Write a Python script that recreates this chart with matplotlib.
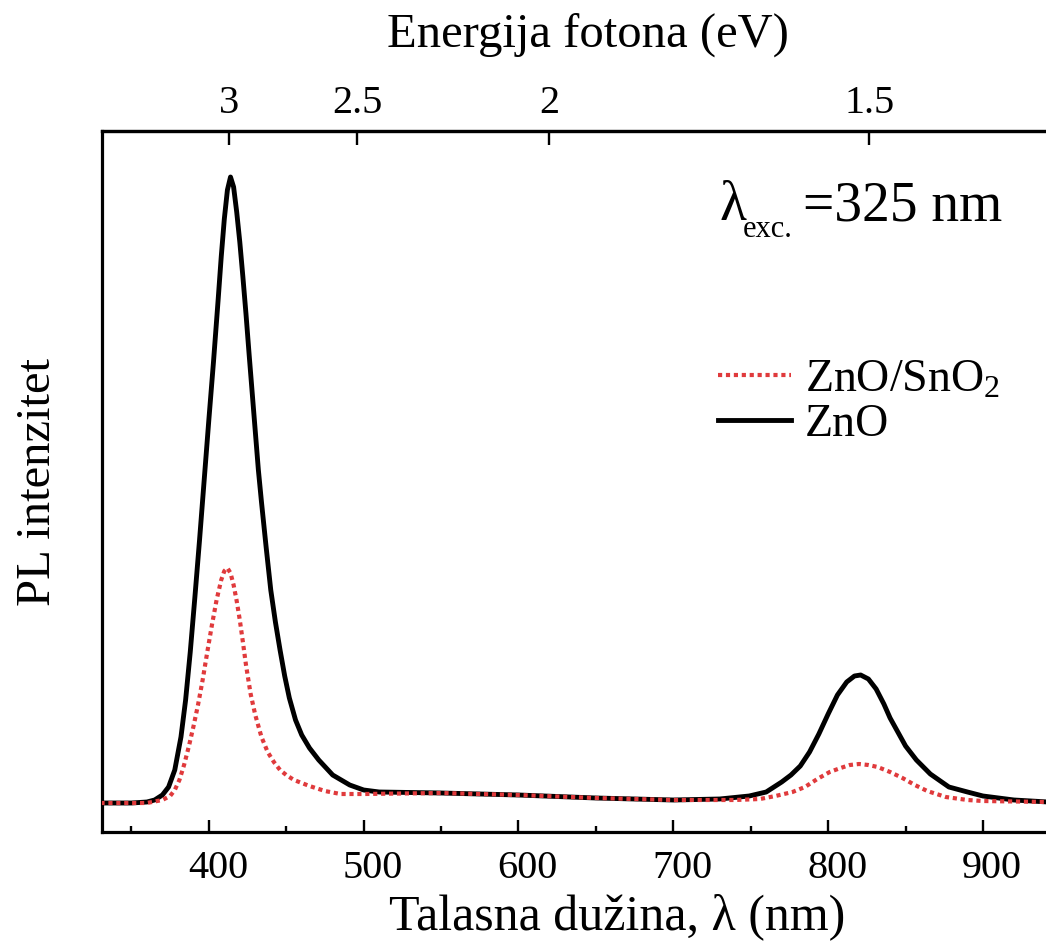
import matplotlib
matplotlib.use("Agg")
import matplotlib.pyplot as plt
import matplotlib.transforms as mtransforms

plt.rcParams['font.family'] = ['Liberation Serif', 'DejaVu Serif']
plt.rcParams['mathtext.fontset'] = 'custom'
plt.rcParams['mathtext.rm'] = 'Liberation Serif'
plt.rcParams['mathtext.it'] = 'Liberation Serif:italic'

# PL spectra (wavelength in nm, intensity in arb. units)
wl_zno = [330, 350, 360, 365, 370, 374, 378, 382, 385, 388, 391, 394, 397, 400,
          403, 406, 408, 410, 412, 414, 416, 418, 420, 422, 424, 426, 429, 432,
          434, 437, 440, 443, 446, 449, 452, 456, 460, 465, 471, 480, 491, 500,
          510, 550, 600, 650, 700, 730, 749, 760, 770, 776, 782, 788, 794, 800,
          806, 812, 817, 821, 826, 831, 836, 840, 845, 850, 857, 866, 878, 890,
          900, 920, 942]
pl_zno = [29, 29, 30, 32, 37, 45, 62, 95, 132, 180, 235, 292, 352, 412,
          470, 532, 575, 613, 642, 655, 645, 620, 590, 555, 518, 478, 420, 362,
          330, 285, 242, 210, 182, 156, 134, 112, 97, 84, 72, 57, 47, 42,
          40, 39, 37, 34, 32, 33, 36, 40, 50, 57, 66, 80, 98, 118,
          137, 150, 156, 157, 153, 143, 128, 114, 100, 86, 72, 58, 45, 40,
          36, 32, 30]

wl_sno = [330, 360, 370, 375, 378, 381, 384, 387, 390, 393, 396, 399, 402, 405,
          408, 410, 412, 414, 416, 418, 420, 422, 424, 427, 430, 434, 438, 442,
          446, 450, 455, 465, 475, 485, 500, 550, 600, 650, 700, 740, 756, 766,
          777, 785, 793, 801, 808, 814, 820, 826, 832, 840, 848, 856, 864, 876,
          890, 900, 942]
pl_sno = [29, 29, 32, 36, 42, 52, 67, 85, 105, 127, 152, 180, 207, 232,
          252, 261, 264, 259, 247, 231, 212, 190, 167, 138, 117, 95, 80, 70,
          62, 57, 52, 46, 41, 38, 38, 39, 37, 34, 32, 32, 33, 36,
          40, 45, 53, 60, 64, 67, 68, 67, 65, 60, 54, 47, 41, 35,
          32, 31, 30]

energy_ticks = [3, 2.5, 2, 1.5]
energy_labels = ['3', '2.5', '2', '1.5']

fig = plt.figure(figsize=(10.46, 9.47), dpi=100)
ax = fig.add_axes([102 / 1046, 115 / 947, 946 / 1046, 701 / 947])

ax.plot(wl_sno, pl_sno, color='#e03a3c', lw=3, linestyle=(0, (1, 0.9)),
        label='ZnO/SnO$_2$', zorder=3)
ax.plot(wl_zno, pl_zno, color='black', lw=3.5, label='ZnO', zorder=2)

ax.set_xlim(331, 942)
ax.set_ylim(0, 701)

for s in ax.spines.values():
    s.set_linewidth(2.3)
ax.spines['right'].set_visible(False)

ax.set_yticks([])
ax.set_xticks([400, 500, 600, 700, 800, 900])
ax.set_xticks([350, 450, 550, 650, 750, 850], minor=True)
ax.tick_params(axis='x', which='major', direction='in', length=9, width=1.7,
               labelsize=29, pad=13)
ax.tick_params(axis='x', which='minor', direction='in', length=4.5, width=1.7)
shift = mtransforms.ScaledTranslation(0.09, 0, fig.dpi_scale_trans)
for lab in ax.get_xticklabels():
    lab.set_transform(lab.get_transform() + shift)

ax.set_xlabel('Talasna dužina, λ (nm)', fontsize=36)
ax.xaxis.set_label_coords(0.545, -0.088)
ax.set_ylabel('PL intenzitet', fontsize=35, labelpad=30)

top = ax.secondary_xaxis('top', functions=(lambda x: 1240.0 / x,
                                            lambda e: 1240.0 / e))
top.set_xticks(energy_ticks)
top.set_xticklabels(energy_labels)
top.tick_params(axis='x', which='major', direction='in', length=10, width=1.7,
                labelsize=29, pad=6.5)
top.tick_params(axis='x', which='minor', length=0)
top.spines['top'].set_linewidth(2.3)
fig.text(387 / 1046, 1 - 47 / 947, 'Energija fotona (eV)', fontsize=35,
         ha='left', va='baseline')

# lambda_exc. annotation
ax.text(0.653, 0.873, 'λ', transform=ax.transAxes, fontsize=40,
        ha='left', va='baseline')
ax.text(0.677, 0.849, 'exc.', transform=ax.transAxes, fontsize=22,
        ha='left', va='baseline')
ax.text(0.741, 0.873, '=325 nm', transform=ax.transAxes, fontsize=40,
        ha='left', va='baseline')

ax.legend(loc='upper left', bbox_to_anchor=(0.651, 0.675), frameon=False,
          fontsize=33, handlelength=1.6, handletextpad=0.3, labelspacing=0.05,
          borderaxespad=0, borderpad=0)

fig.savefig('out.png', dpi=100)
